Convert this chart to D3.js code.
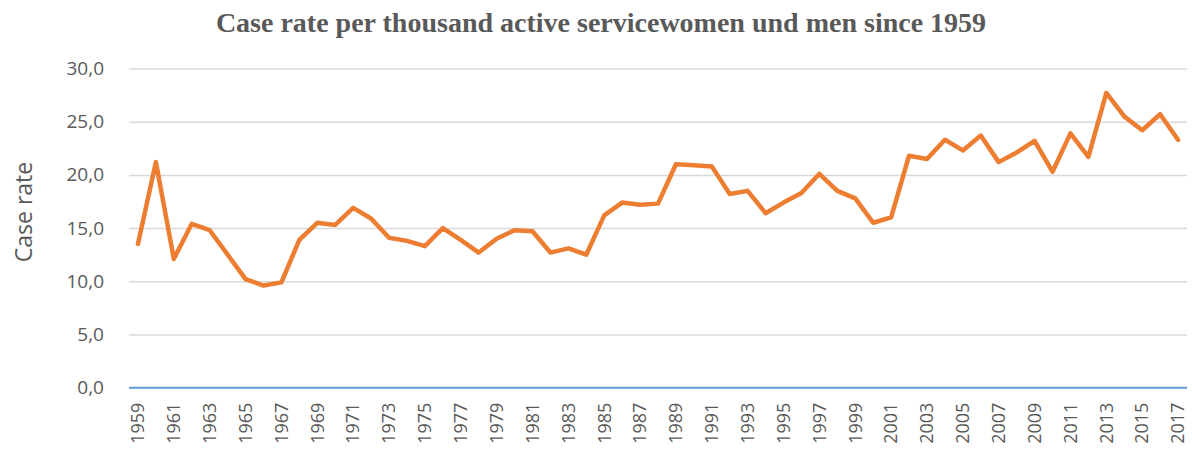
<!DOCTYPE html>
<html>
<head>
<meta charset="utf-8">
<script src="https://cdn.jsdelivr.net/npm/d3@7/dist/d3.min.js"></script>
<style>
  html, body { margin: 0; padding: 0; background: #fff; }
  svg { display: block; }
</style>
</head>
<body>
<svg id="chart" width="1192" height="455"></svg>
<script>
const years = d3.range(1959, 2018).map(String);
const caseRate = [
  13.5, 21.2, 12.1, 15.4, 14.8, 12.5, 10.2, 9.6, 9.9, 13.9,
  15.5, 15.3, 16.9, 15.9, 14.1, 13.8, 13.3, 15.0, 13.9, 12.7,
  14.0, 14.8, 14.7, 12.7, 13.1, 12.5, 16.2, 17.4, 17.2, 17.3,
  21.0, 20.9, 20.8, 18.2, 18.5, 16.4, 17.4, 18.3, 20.1, 18.5,
  17.8, 15.5, 16.0, 21.8, 21.5, 23.3, 22.3, 23.7, 21.2, 22.1,
  23.2, 20.3, 23.9, 21.7, 27.7, 25.5, 24.2, 25.7, 23.3
];
const yTicks = [0, 5, 10, 15, 20, 25, 30];
const xTickLabels = years.filter((d, i) => i % 2 === 0);
const titleText = "Case rate per thousand active servicewomen und men since 1959";
const yAxisTitle = "Case rate";

const svg = d3.select("#chart");
const left = 129, right = 1187;

const x = d3.scaleBand().domain(years).range([left, right]).paddingInner(0).paddingOuter(0);
const y = d3.scaleLinear().domain([0, 30]).range([387.7, 68.5]);

// title
svg.append("text")
  .attr("x", 601).attr("y", 32)
  .attr("text-anchor", "middle")
  .style("font-family", "'Liberation Serif', 'Times New Roman', serif")
  .style("font-weight", "bold")
  .style("font-size", "28px")
  .style("fill", "#595959")
  .text(titleText);

// gridlines + y tick labels
const yAxis = d3.axisLeft(y).tickValues(yTicks)
  .tickSize(-(right - left))
  .tickPadding(25)
  .tickFormat(d => d3.format(".1f")(d).replace(".", ","));
const gy = svg.append("g").attr("transform", `translate(${left},0)`).call(yAxis);
gy.select(".domain").remove();
gy.selectAll(".tick line")
  .attr("stroke-width", 1.5)
  .attr("stroke", d => d === 0 ? "none" : "#d9d9d9");
gy.selectAll(".tick text")
  .style("font-family", "'Open Sans', 'Liberation Sans', sans-serif")
  .style("font-size", "19px")
  .style("fill", "#595959");

// baseline
svg.append("line")
  .attr("x1", left).attr("x2", right)
  .attr("y1", y(0)).attr("y2", y(0))
  .attr("stroke", "#5b9bd5").attr("stroke-width", 2);

// x axis labels
const xAxis = d3.axisBottom(x).tickValues(xTickLabels).tickSize(0).tickPadding(0);
const gx = svg.append("g").attr("transform", `translate(0,${y(0)})`).call(xAxis);
gx.select(".domain").remove();
gx.selectAll(".tick text")
  .attr("transform", "rotate(-90)")
  .attr("x", -15).attr("y", 0).attr("dy", "0.35em")
  .attr("text-anchor", "end")
  .style("font-family", "'Open Sans', 'Liberation Sans', sans-serif")
  .style("font-size", "18px")
  .style("fill", "#595959");

// y axis title
svg.append("text")
  .attr("transform", `translate(32,212) rotate(-90)`)
  .attr("text-anchor", "middle")
  .style("font-family", "'Open Sans', 'Liberation Sans', sans-serif")
  .style("font-size", "23px")
  .style("fill", "#595959")
  .text(yAxisTitle);

// line
const line = d3.line()
  .x((d, i) => x(years[i]) + x.bandwidth() / 2)
  .y(d => y(d));
svg.append("path")
  .datum(caseRate)
  .attr("fill", "none")
  .attr("stroke", "#ed7d31")
  .attr("stroke-width", 4.5)
  .attr("stroke-linejoin", "round")
  .attr("stroke-linecap", "round")
  .attr("d", line);
</script>
</body>
</html>
